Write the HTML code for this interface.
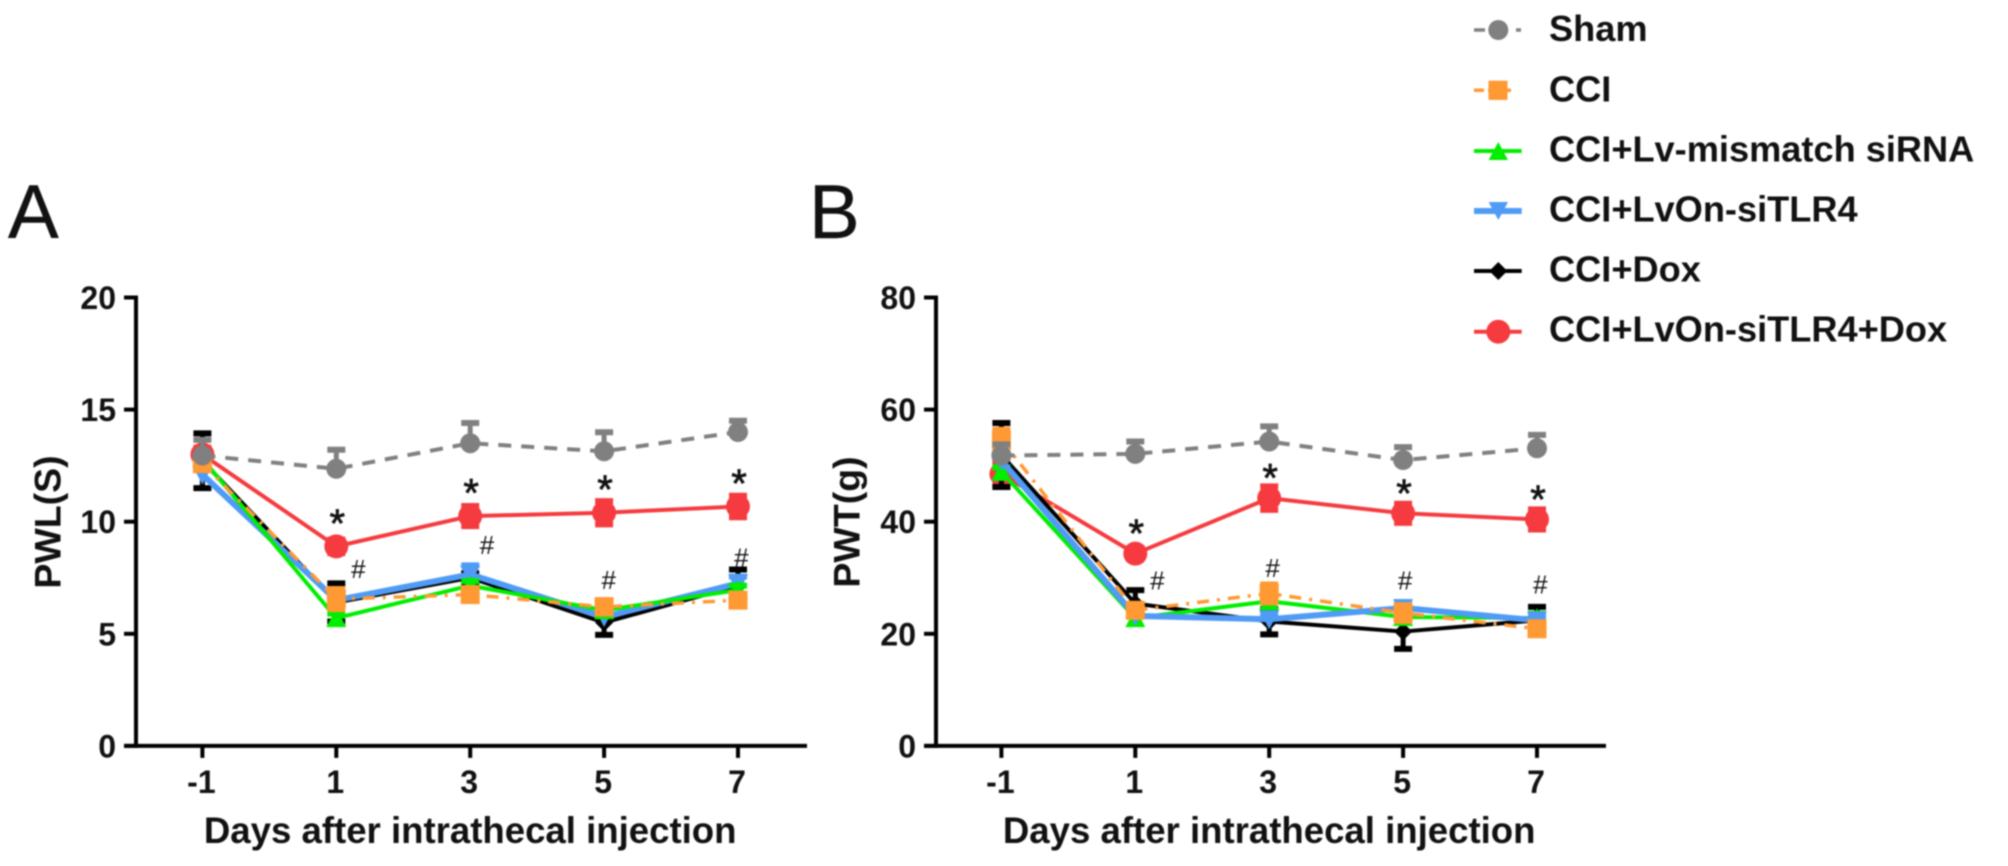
<!DOCTYPE html>
<html lang="en">
<head>
<meta charset="utf-8">
<title>PWL and PWT after intrathecal injection</title>
<style>
html,body{margin:0;padding:0;background:#fff;width:2008px;height:866px;overflow:hidden}
svg{display:block;filter:blur(0.8px)}
text{font-family:"Liberation Sans",Arial,sans-serif;fill:#111}
.b{font-weight:bold}
</style>
</head>
<body>
<svg id="fig" xmlns="http://www.w3.org/2000/svg" width="2008" height="866" viewBox="0 0 2008 866">
  <rect x="0" y="0" width="2008" height="866" fill="#fff"/>
  <text x="8" y="238" font-size="76" stroke="#111" stroke-width="0.4">A</text>
  <text x="809" y="238" font-size="76" stroke="#111" stroke-width="0.4">B</text>
  <g id="chartA"></g>
  <g id="chartB"></g>
  <g id="legend">
    <g>
      <line x1="1474" y1="30" x2="1521" y2="30" stroke="#808080" stroke-width="3.5" stroke-dasharray="11 10"/>
      <circle cx="1498.3" cy="30" r="10" fill="#808080"/>
      <text class="b" x="1549" y="41" font-size="36.2">Sham</text>
    </g>
    <g>
      <line x1="1474" y1="90.3" x2="1511" y2="90.3" stroke="#FF9933" stroke-width="3.5" stroke-dasharray="10 4"/>
      <rect x="1488.5" y="80.7" width="19" height="19.2" fill="#FF9933"/>
      <text class="b" x="1549" y="101.7" font-size="36.2">CCI</text>
    </g>
    <g>
      <line x1="1474" y1="151" x2="1521.7" y2="151" stroke="#00EE00" stroke-width="4"/>
      <polygon points="1498.3,142 1508,160 1488.6,160" fill="#00EE00"/>
      <text class="b" x="1549" y="161.7" font-size="36.2">CCI+Lv-mismatch siRNA</text>
    </g>
    <g>
      <line x1="1474" y1="211" x2="1521.7" y2="211" stroke="#4F9BF5" stroke-width="6"/>
      <polygon points="1488.6,202 1508,202 1498.3,220" fill="#4F9BF5"/>
      <text class="b" x="1549" y="221.7" font-size="36.2">CCI+LvOn-siTLR4</text>
    </g>
    <g>
      <line x1="1474" y1="271" x2="1521.7" y2="271" stroke="#000" stroke-width="4"/>
      <polygon points="1498.3,262 1507.3,271 1498.3,280 1489.3,271" fill="#000"/>
      <text class="b" x="1549" y="281.7" font-size="36.2">CCI+Dox</text>
    </g>
    <g>
      <line x1="1474" y1="331.7" x2="1521.7" y2="331.7" stroke="#F53B3F" stroke-width="4"/>
      <circle cx="1498.3" cy="331.7" r="12" fill="#F53B3F"/>
      <text class="b" x="1549" y="341.7" font-size="36.2">CCI+LvOn-siTLR4+Dox</text>
    </g>
  </g>
</svg>
<script>
// Shared categories
const days = [-1, 1, 3, 5, 7];
const annotatedDays = [1, 3, 5, 7];

// Panel A: PWL(S)
const ticksA = [0, 5, 10, 15, 20];
const shamA = [12.95, 12.36, 13.5, 13.14, 14.0];
const shamAUp = [0.7, 0.85, 0.9, 0.85, 0.5];
const cciA = [12.6, 6.55, 6.75, 6.2, 6.5];
const cciAErr = [0.3, 0.45, 0.2, 0.3, 0.2];
const greenA = [12.8, 5.7, 7.15, 6.05, 6.95];
const greenAErr = [0.2, 0.2, 0.2, 0.2, 0.2];
const blueA = [12.1, 6.5, 7.65, 5.75, 7.25];
const blueAErr = [0.2, 0.2, 0.4, 0.2, 0.3];
const blackA = [12.72, 6.4, 7.5, 5.5, 7.15];
const blackAErr = [1.22, 0.85, 0.2, 0.55, 0.72];
const redA = [13.0, 8.9, 10.25, 10.4, 10.68];
const redAErr = [0.3, 0.3, 0.45, 0.52, 0.48];
const hashDaysA = [1.33, 3.25, 5.07, 7.05];
const hashValuesA = [7.9, 8.95, 7.4, 8.4];

// Panel B: PWT(g)
const ticksB = [0, 20, 40, 60, 80];
const shamB = [51.8, 52.1, 54.3, 51.0, 53.1];
const shamBUp = [2.0, 2.2, 2.7, 2.3, 2.4];
const cciB = [54.6, 24.2, 27.2, 23.7, 20.9];
const cciBErr = [1.8, 0.9, 1.6, 1.4, 0.9];
const greenB = [48.9, 22.8, 25.8, 23.0, 22.8];
const greenBErr = [0.8, 0.6, 0.8, 0.8, 0.8];
const blueB = [50.9, 23.2, 22.6, 24.6, 22.4];
const blueBErr = [0.8, 0.6, 0.8, 1.0, 0.6];
const blackB = [51.9, 25.4, 22.2, 20.4, 22.4];
const blackBUp = [5.7, 2.4, 2.2, 3.0, 2.4];
const blackBDown = [5.7, 2.0, 2.3, 3.1, 1.0];
const redB = [48.5, 34.3, 44.2, 41.5, 40.4];
const redBErr = [2.0, 1.0, 2.1, 1.7, 1.8];
const hashDaysB = [1.33, 3.05, 5.03, 7.05];
const hashValuesB = [29.5, 31.7, 29.5, 28.8];

const SVGNS = 'http://www.w3.org/2000/svg';
function mk(parent, tag, attrs) {
  const el = document.createElementNS(SVGNS, tag);
  for (const k in attrs) el.setAttribute(k, attrs[k]);
  parent.appendChild(el);
  return el;
}

function drawMarker(g, type, cx, cy, color) {
  let m;
  if (type === 'circle') m = mk(g, 'circle', {cx: cx, cy: cy, r: 10, fill: color});
  else if (type === 'circleL') m = mk(g, 'circle', {cx: cx, cy: cy, r: 12, fill: color});
  else if (type === 'square') m = mk(g, 'rect', {x: cx - 9.5, y: cy - 9.5, width: 19, height: 19, fill: color});
  else if (type === 'up') m = mk(g, 'polygon', {points: (cx) + ',' + (cy - 10) + ' ' + (cx + 10) + ',' + (cy + 9) + ' ' + (cx - 10) + ',' + (cy + 9), fill: color});
  else if (type === 'down') m = mk(g, 'polygon', {points: (cx - 10) + ',' + (cy - 9) + ' ' + (cx + 10) + ',' + (cy - 9) + ' ' + (cx) + ',' + (cy + 10), fill: color});
  else m = mk(g, 'polygon', {points: (cx) + ',' + (cy - 9) + ' ' + (cx + 9) + ',' + (cy) + ' ' + (cx) + ',' + (cy + 9) + ' ' + (cx - 9) + ',' + (cy), fill: color});
  
  
}

function drawChart(rootId, cfg) {
  const root = document.getElementById(rootId);
  const x = d => cfg.x0 + (d - days[0]) * (cfg.x1 - cfg.x0) / (days[days.length - 1] - days[0]);
  const yMax = cfg.ticks[cfg.ticks.length - 1];
  const y = v => 745.9 - v * (745.9 - 297.5) / yMax;

  // axes
  const yAxis = mk(root, 'line', {x1: cfg.axisX, y1: y(yMax) - 2, x2: cfg.axisX, y2: y(0) + 2, stroke: '#000', 'stroke-width': 4});
  
  
  const xAxis = mk(root, 'line', {x1: cfg.axisX - 12, y1: y(0), x2: cfg.axisEnd, y2: y(0), stroke: '#000', 'stroke-width': 4});
  
  

  cfg.ticks.forEach(t => {
    const tick = mk(root, 'line', {x1: cfg.axisX - 12, y1: y(t), x2: cfg.axisX, y2: y(t), stroke: '#000', 'stroke-width': 4});
    
    
    const lab = mk(root, 'text', {x: cfg.axisX - 20, y: y(t) + 11.5, 'font-size': 32, 'font-weight': 'bold', 'text-anchor': 'end'});
    lab.textContent = t;
    
    
  });
  days.forEach(d => {
    const tick = mk(root, 'line', {x1: x(d), y1: y(0), x2: x(d), y2: y(0) + 12, stroke: '#000', 'stroke-width': 4});
    
    
    const lab = mk(root, 'text', {x: x(d) - 1, y: 793, 'font-size': 32, 'font-weight': 'bold', 'text-anchor': 'middle'});
    lab.textContent = d;
    
    
  });

  const xt = mk(root, 'text', {x: (cfg.x0 + cfg.x1) / 2, y: 843, 'font-size': 36.6, 'font-weight': 'bold', 'text-anchor': 'middle'});
  xt.textContent = 'Days after intrathecal injection';
  
  
  const yt = mk(root, 'text', {x: 0, y: 0, 'font-size': 37.5, 'font-weight': 'bold', 'text-anchor': 'middle', transform: 'translate(' + cfg.yTitleX + ',522) rotate(-90)'});
  yt.textContent = cfg.yTitle;
  
  

  // series
  cfg.series.forEach(s => {
    const g = mk(root, 'g', {});
    
    
    s.values.forEach((v, i) => {
      const top = y(v + s.up[i]);
      const bot = s.down ? y(v - s.down[i]) : y(v);
      const stem = mk(g, 'line', {x1: x(days[i]), y1: top, x2: x(days[i]), y2: bot, stroke: s.color, 'stroke-width': 5});
      
      
      const capTop = mk(g, 'line', {x1: x(days[i]) - 9, y1: top, x2: x(days[i]) + 9, y2: top, stroke: s.color, 'stroke-width': 6});
      
      
      if (s.down) {
        const capBot = mk(g, 'line', {x1: x(days[i]) - 9, y1: bot, x2: x(days[i]) + 9, y2: bot, stroke: s.color, 'stroke-width': 6});
        
        
      }
    });
    const pts = s.values.map((v, i) => x(days[i]) + ',' + y(v)).join(' ');
    const line = mk(g, 'polyline', {points: pts, fill: 'none', stroke: s.color, 'stroke-width': s.width, 'stroke-linejoin': 'round'});
    if (s.dash) line.setAttribute('stroke-dasharray', s.dash);
    
    
    s.values.forEach((v, i) => drawMarker(g, s.marker, x(days[i]), y(v), s.color));
  });

  // significance marks: stars float a fixed distance above the red series
  annotatedDays.forEach((d, i) => {
    const idx = days.indexOf(d);
    const star = mk(root, 'text', {x: x(d) + 1, y: y(cfg.starSeries[idx]) - cfg.starGap + 19.5, 'font-size': 40, stroke: '#111', 'stroke-width': 0.7, 'text-anchor': 'middle'});
    star.textContent = '*';
    
    
    const hash = mk(root, 'text', {x: x(cfg.hashDays[i]), y: y(cfg.hashValues[i]) + 9, 'font-size': 26, 'text-anchor': 'middle'});
    hash.textContent = '#';
    
    
  });
}

drawChart('chartA', {
  x0: 202.4, x1: 738, axisX: 136, axisEnd: 807, ticks: ticksA, yTitle: 'PWL(S)', yTitleX: 60.5,
  starSeries: redA, starGap: 29, hashDays: hashDaysA, hashValues: hashValuesA,
  series: [
    {name: 'cci-lvon-sitlr4-dox', values: redA, up: redAErr, down: redAErr, color: '#F53B3F', width: 4, marker: 'circleL'},
    {name: 'cci-dox', values: blackA, up: blackAErr, down: blackAErr, color: '#000', width: 4, marker: 'diamond'},
    {name: 'cci-lvon-sitlr4', values: blueA, up: blueAErr, color: '#4F9BF5', width: 6, marker: 'down'},
    {name: 'cci-lv-mismatch-sirna', values: greenA, up: greenAErr, color: '#00EE00', width: 4, marker: 'up'},
    {name: 'cci', values: cciA, up: cciAErr, down: cciAErr, color: '#FF9933', width: 3.5, dash: '12 8 3 8', marker: 'square'},
    {name: 'sham', values: shamA, up: shamAUp, color: '#808080', width: 4, dash: '13 10', marker: 'circle'}
  ]
});

drawChart('chartB', {
  x0: 1001.4, x1: 1537, axisX: 936, axisEnd: 1606, ticks: ticksB, yTitle: 'PWT(g)', yTitleX: 859.5,
  starSeries: redB, starGap: 26, hashDays: hashDaysB, hashValues: hashValuesB,
  series: [
    {name: 'cci-lvon-sitlr4-dox', values: redB, up: redBErr, down: redBErr, color: '#F53B3F', width: 4, marker: 'circleL'},
    {name: 'cci-dox', values: blackB, up: blackBUp, down: blackBDown, color: '#000', width: 4, marker: 'diamond'},
    {name: 'cci-lv-mismatch-sirna', values: greenB, up: greenBErr, color: '#00EE00', width: 4, marker: 'up'},
    {name: 'cci-lvon-sitlr4', values: blueB, up: blueBErr, color: '#4F9BF5', width: 6, marker: 'down'},
    {name: 'cci', values: cciB, up: cciBErr, down: cciBErr, color: '#FF9933', width: 3.5, dash: '12 8 3 8', marker: 'square'},
    {name: 'sham', values: shamB, up: shamBUp, color: '#808080', width: 4, dash: '13 10', marker: 'circle'}
  ]
});
</script>
</body>
</html>
